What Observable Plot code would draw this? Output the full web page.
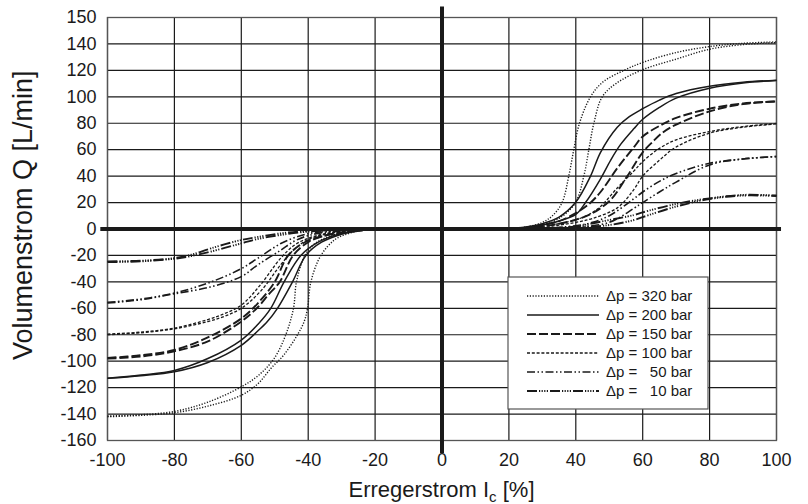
<!DOCTYPE html>
<html>
<head>
<meta charset="utf-8">
<script src="https://cdn.jsdelivr.net/npm/d3@7"></script>
<script src="https://cdn.jsdelivr.net/npm/@observablehq/plot@0.6"></script>
<style>
  html, body { margin: 0; padding: 0; background: #fff; }
  #chart { width: 808px; height: 504px; }
</style>
</head>
<body>
<div id="chart"></div>
<script>
// ---------- data ----------
const xTicks = [-100, -80, -60, -40, -20, 0, 20, 40, 60, 80, 100];
const xTickLabels = ["-100", "-80", "-60", "-40", "-20", "0", "20", "40", "60", "80", "100"];
const yTicks = [-160, -140, -120, -100, -80, -60, -40, -20, 0, 20, 40, 60, 80, 100, 120, 140, 160];
const yTickLabels = ["-160", "-140", "-120", "-100", "-80", "-60", "-40", "-20", "0", "20", "40", "60", "80", "100", "120", "140", "150"];

const pressures = ["320", "200", "150", "100", "50", "10"];
const legendLabels = ["Δp = 320 bar", "Δp = 200 bar", "Δp = 150 bar", "Δp = 100 bar", "Δp = \u200750 bar", "Δp = \u200710 bar"];

// positive excitation, two branches per pressure
const p320_pos_a = [[17,0],[25,1.5],[30,5],[33,10],[35.9,20],[37.9,40],[39.4,60],[41.1,80],[44.4,100],[48,111],[54.4,120],[60,126],[70,133.5],[80,138],[90,140.5],[100,141.5]];
const p320_pos_b = [[17,0],[25,1],[30,3],[35,8],[39.9,20],[42.4,40],[43.9,60],[45.4,80],[47.9,100],[52,110],[60,120.5],[70,128.5],[80,136],[90,139.5],[100,141]];
const p200_pos_a = [[17,0],[25,1.5],[30,4],[35,9],[39.9,20],[44.4,40],[47.4,58],[52.4,77],[56,85],[60,91],[65,97.5],[70,102.5],[80,108],[90,111],[100,112.6]];
const p200_pos_b = [[17,0],[25,1],[30,3],[35,6],[40,11],[42.9,20],[47.4,38],[50.4,52],[53.4,64],[57.4,76],[60,83],[65,92],[70,99],[80,106.5],[90,110.5],[100,112.3]];
const p150_pos_a = [[17,0],[25,1],[30,3],[35,6],[40,12],[44,19],[47.4,28],[52.4,46],[57.4,62],[60,70],[65,78],[70,84],[80,91],[90,95],[100,96.5]];
const p150_pos_b = [[17,0],[25,0.5],[30,2],[35,4],[40,7],[45,12],[50.4,22],[55.4,40],[60,58],[63,66],[66,73],[70,79],[80,89],[90,94.5],[100,96.5]];
const p100_pos_a = [[17,0],[25,0.5],[30,2],[35,4],[40,7],[44,11],[47.4,17],[52.4,31],[57.4,44],[60,51],[65,61],[70,67.5],[80,73.7],[90,77.5],[100,79.8]];
const p100_pos_b = [[17,0],[25,0.3],[30,1],[35,3],[40,5],[45,8],[52.4,16],[57.4,30],[60,40],[65,52],[70,62],[80,72.5],[90,77],[100,79.5]];
const p50_pos_a  = [[17,0],[30,0.5],[40,2.5],[45,5],[50.4,10.6],[57.4,23],[60,28],[65,36],[70,42],[80,49.7],[90,53],[100,54.8]];
const p50_pos_b  = [[17,0],[30,0.3],[40,1.5],[50,5],[57.4,15.7],[60,20],[65,28],[70,35.5],[80,48.5],[90,53],[100,54.8]];
const p10_pos_a  = [[17,0],[30,0.5],[40,2],[47.4,5.5],[57.4,10.6],[60,12.6],[70,19],[80,23.2],[90,25.8],[100,25.3]];
const p10_pos_b  = [[17,0],[30,0.3],[40,1],[50,3],[57.4,6.8],[60,9],[70,17],[80,22.7],[90,25.3],[100,25]];

// negative excitation, two branches per pressure
const p320_neg_a = [[-100,-142],[-90,-141],[-80,-139],[-70,-134],[-60,-125.8],[-55,-117],[-51.2,-105.6],[-47.2,-95],[-43.2,-80],[-41.2,-70],[-40.2,-60],[-39.2,-40],[-36.2,-20],[-32,-8],[-28,-3.5],[-24,-1],[-20,0]];
const p320_neg_b = [[-100,-141.5],[-90,-140.5],[-80,-138],[-70,-131],[-60,-119.4],[-55,-111],[-50.2,-98],[-46.7,-80],[-44.4,-60],[-43.5,-40],[-41,-20],[-38,-11],[-33,-5],[-28,-2],[-24,-0.5],[-20,0]];
const p200_neg_a = [[-100,-113],[-90,-111],[-80,-108],[-70,-101],[-60,-88],[-55,-77],[-52.2,-70],[-49.2,-60],[-44.7,-40],[-40.7,-20],[-36,-10],[-30,-4],[-25,-1.5],[-20,0]];
const p200_neg_b = [[-100,-113],[-90,-110.5],[-80,-107],[-70,-98],[-60,-84],[-55,-72],[-51.2,-60],[-47.2,-40],[-42.2,-20],[-37,-10],[-31,-4],[-25,-1.5],[-20,0]];
const p150_neg_a = [[-100,-98],[-90,-96.5],[-80,-92.5],[-70,-85],[-60,-70],[-55,-59],[-52,-50],[-48.5,-40],[-44.5,-20],[-40,-10],[-35,-5],[-28,-2],[-20,0]];
const p150_neg_b = [[-100,-97.5],[-90,-95.5],[-80,-91.5],[-70,-82],[-60,-67.7],[-55,-56],[-50,-40],[-46,-20],[-41,-10],[-35,-5],[-28,-2],[-20,0]];
const p100_neg_a = [[-100,-80],[-90,-78.5],[-80,-75.5],[-70,-70],[-65,-66],[-60,-60],[-54.2,-47],[-48.2,-27],[-44,-15],[-40,-8],[-35,-4],[-28,-1.5],[-20,0]];
const p100_neg_b = [[-100,-79.5],[-90,-78],[-80,-75],[-70,-68.5],[-65,-64],[-60,-57.6],[-54.2,-42],[-48.2,-22],[-44,-12],[-40,-7],[-35,-3.5],[-28,-1.2],[-20,0]];
const p50_neg_a  = [[-100,-56],[-90,-53.5],[-80,-49],[-69,-43.7],[-60,-36],[-55,-27],[-48.2,-16],[-44,-9],[-40,-5],[-35,-2.5],[-28,-1],[-20,0]];
const p50_neg_b  = [[-100,-55.5],[-90,-53],[-80,-48.5],[-69,-40],[-60,-30],[-55,-22],[-48.2,-11],[-44,-6.5],[-40,-3.5],[-35,-2],[-28,-0.8],[-20,0]];
const p10_neg_a  = [[-100,-25],[-90,-24.5],[-80,-22.5],[-75,-20.5],[-69,-17],[-60,-10.9],[-55,-7.5],[-48.2,-4.5],[-40,-2],[-30,-0.6],[-20,0]];
const p10_neg_b  = [[-100,-24.5],[-90,-24],[-80,-22],[-75,-19.5],[-69,-14.6],[-60,-8.3],[-55,-6],[-48.2,-3.3],[-40,-1.5],[-30,-0.4],[-20,0]];

// ---------- build table ----------
const branches = [
  ["320", "pos_a", p320_pos_a], ["320", "pos_b", p320_pos_b], ["320", "neg_a", p320_neg_a], ["320", "neg_b", p320_neg_b],
  ["200", "pos_a", p200_pos_a], ["200", "pos_b", p200_pos_b], ["200", "neg_a", p200_neg_a], ["200", "neg_b", p200_neg_b],
  ["150", "pos_a", p150_pos_a], ["150", "pos_b", p150_pos_b], ["150", "neg_a", p150_neg_a], ["150", "neg_b", p150_neg_b],
  ["100", "pos_a", p100_pos_a], ["100", "pos_b", p100_pos_b], ["100", "neg_a", p100_neg_a], ["100", "neg_b", p100_neg_b],
  ["50",  "pos_a", p50_pos_a],  ["50",  "pos_b", p50_pos_b],  ["50",  "neg_a", p50_neg_a],  ["50",  "neg_b", p50_neg_b],
  ["10",  "pos_a", p10_pos_a],  ["10",  "pos_b", p10_pos_b],  ["10",  "neg_a", p10_neg_a],  ["10",  "neg_b", p10_neg_b]
];
const rows = branches.flatMap(([p, b, pts]) => pts.map(([x, y]) => ({p, branch: p + "_" + b, x, y})));

// line styles per pressure
const styles = {
  "320": {strokeWidth: 1.4, dash: "1.2,1.6"},
  "200": {strokeWidth: 1.5, dash: null},
  "150": {strokeWidth: 1.9, dash: "9,3"},
  "100": {strokeWidth: 1.3, dash: "3,1.8"},
  "50":  {strokeWidth: 1.6, dash: "8,2.5,1.5,2.5,1.5,2.5"},
  "10":  {strokeWidth: 1.9, dash: "10,2,1.2,1.4,1.2,1.4,1.2,1.4,1.2,2"}
};

const ink = "#1a1a1a";
const lineMarks = pressures.map(p => Plot.line(rows.filter(r => r.p === p), {
  x: "x", y: "y", z: "branch", curve: "catmull-rom",
  stroke: ink, strokeWidth: styles[p].strokeWidth,
  strokeDasharray: styles[p].dash || undefined,
  strokeLinecap: "butt"
}));

const plot = Plot.plot({
  width: 808, height: 504,
  marginLeft: 107, marginRight: 32, marginTop: 17, marginBottom: 64,
  x: {domain: [-100, 100]},
  y: {domain: [-160, 160]},
  style: {fontFamily: "'Liberation Sans', Arial, Helvetica, sans-serif", fontSize: "18px", color: ink, background: "#fff", overflow: "visible"},
  marks: [
    Plot.gridX(xTicks, {stroke: ink, strokeOpacity: 1, strokeWidth: 1.2}),
    Plot.gridY(yTicks, {stroke: ink, strokeOpacity: 1, strokeWidth: 1.2}),
    Plot.frame({stroke: "#555", strokeWidth: 1.3}),
    Plot.axisX(xTicks, {tickSize: 0, tickPadding: 13, label: null, fontSize: 18,
      tickFormat: d => xTickLabels[xTicks.indexOf(d)]}),
    Plot.axisY(yTicks, {tickSize: 0, tickPadding: 11, label: null, fontSize: 18,
      tickFormat: d => yTickLabels[yTicks.indexOf(d)]}),
    ...lineMarks,
    Plot.ruleY([0], {x1: -102, x2: 101.5, stroke: ink, strokeWidth: 4}),
    Plot.ruleX([0], {y1: -170, y2: 168, stroke: ink, strokeWidth: 4})
  ]
});

document.getElementById("chart").appendChild(plot);

// ---------- axis titles and legend ----------
const svg = d3.select(plot);
const sx = plot.scale("x"), sy = plot.scale("y");
const font = "'Liberation Sans', Arial, Helvetica, sans-serif";

const xt = svg.append("text")
  .attr("x", sx.apply(0)).attr("y", 497)
  .attr("text-anchor", "middle")
  .style("font-family", font).style("font-size", "22px").attr("fill", ink);
xt.append("tspan").text("Erregerstrom I");
xt.append("tspan").attr("dy", 5).style("font-size", "15px").text("c");
xt.append("tspan").attr("dy", -5).text(" [%]");

svg.append("text")
  .attr("transform", `translate(32, ${sy.apply(10)}) rotate(-90)`)
  .attr("text-anchor", "middle")
  .style("font-family", font).style("font-size", "27px").attr("fill", ink)
  .text("Volumenstrom Q [L/min]");

const lg = svg.append("g").attr("text-anchor", "start");
lg.append("rect").attr("x", 508).attr("y", 277).attr("width", 200).attr("height", 132)
  .attr("fill", "#fff").attr("stroke", "#555").attr("stroke-width", 1.2);
pressures.forEach((p, i) => {
  const yy = 296 + i * 19;
  const ln = lg.append("line").attr("x1", 527).attr("x2", 599).attr("y1", yy).attr("y2", yy)
    .attr("stroke", ink).attr("stroke-width", styles[p].strokeWidth);
  if (styles[p].dash) ln.attr("stroke-dasharray", styles[p].dash);
  lg.append("text").attr("x", 606).attr("y", yy).attr("dy", "0.35em")
    .attr("text-anchor", "start")
    .style("font-family", font).style("font-size", "15px").attr("fill", ink)
    .text(legendLabels[i]);
});
</script>
</body>
</html>
